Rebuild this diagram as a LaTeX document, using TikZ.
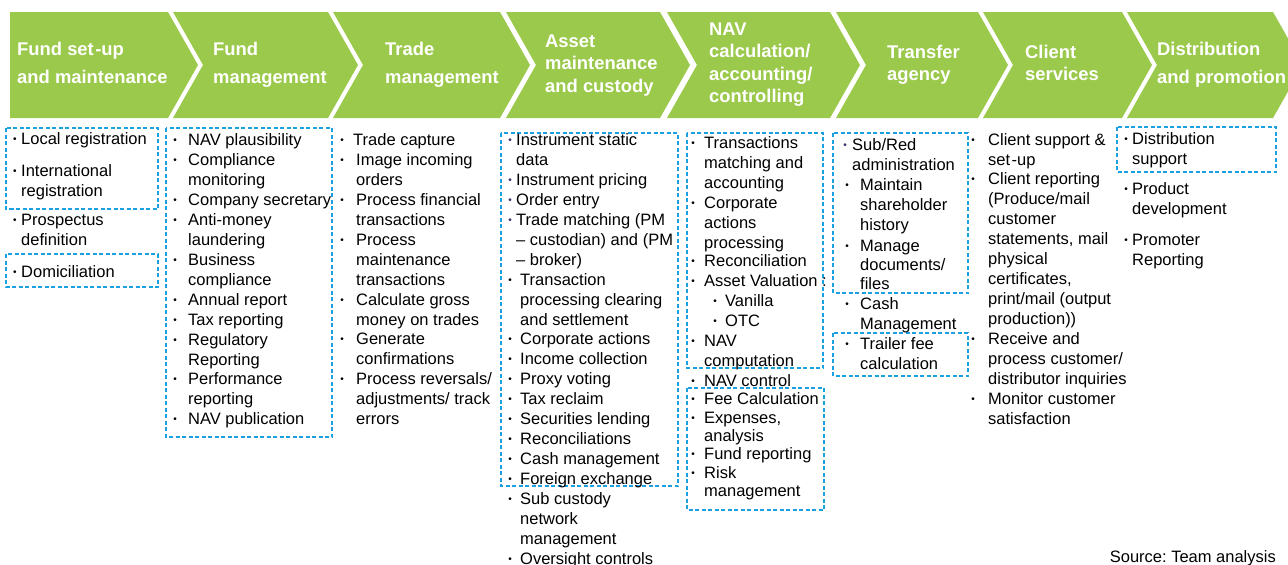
\documentclass[tikz,border=0pt]{standalone}
\usepackage{fontspec}
\setmainfont{Liberation Sans}
\frenchspacing
\definecolor{chevgreen}{RGB}{155,201,75}
\definecolor{boxblue}{RGB}{27,161,226}
\definecolor{bulnavy}{RGB}{50,50,110}
\tikzset{
  chev/.style={fill=chevgreen},
  head/.style={anchor=base west, inner sep=0, text=white, font=\bfseries\fontsize{18.4}{22.5}\selectfont},
  headwide/.style={head, font=\bfseries\fontsize{18.4}{28}\selectfont},
  itm/.style={anchor=base west, inner sep=0, font=\fontsize{16.5}{20}\selectfont\frenchspacing},
  bul/.style={anchor=base, inner sep=0, font=\fontsize{10}{10}\selectfont},
  dbox/.style={draw=boxblue, line width=1.4pt, dash pattern=on 4pt off 2.5pt},
}
% multi-line text whose baseline is that of its first line
\newcommand\ml[1]{\vtop{\def\\{\cr}\halign{##\hfil\cr #1\crcr}}}
% [bullet colour]{name}{bullet x}{baseline y}{text x}{text}
\newcommand\bitem[6][black]{%
  \node[bul,text=#1] (#2b) at (#3,#4-1.5) {•};
  \node[itm] (#2) at (#5,#4) {\ml{#6}};
}
\begin{document}
\begin{tikzpicture}[x=1pt,y=-1pt]
\useasboundingbox (0,0) rectangle (1288,565);
% chevrons
\fill[chev] (10,12) -- (168,12) -- (198,65) -- (168,118) -- (10,118) -- cycle;
\fill[chev] (173,12) -- (328,12) -- (358,65) -- (328,118) -- (173,118) -- (203,65) -- cycle;
\fill[chev] (333,12) -- (500,12) -- (530,65) -- (500,118) -- (333,118) -- (363,65) -- cycle;
\fill[chev] (506,12) -- (660,12) -- (690,65) -- (660,118) -- (506,118) -- (536,65) -- cycle;
\fill[chev] (667,12) -- (830,12) -- (860,65) -- (830,118) -- (667,118) -- (697,65) -- cycle;
\fill[chev] (836,12) -- (978,12) -- (1008,65) -- (978,118) -- (836,118) -- (866,65) -- cycle;
\fill[chev] (983,12) -- (1122,12) -- (1152,65) -- (1122,118) -- (983,118) -- (1013,65) -- cycle;
\fill[chev] (1127,12) -- (1273,12) -- (1288,38.5) -- (1288,91.5) -- (1273,118) -- (1127,118) -- (1157,65) -- cycle;
% header labels
\node[headwide] (h1) at (17,55) {\ml{Fund set\kern1.5pt-up\\and maintenance}};
\node[headwide] (h2) at (213,55) {\ml{Fund\\management}};
\node[headwide] (h3) at (385,55) {\ml{Trade\\management}};
\node[head] (h4) at (545,47) {\ml{Asset\\maintenance\\and custody}};
\node[head] (h5) at (709,35) {\ml{NAV\\calculation/\\accounting/\\controlling}};
\node[head] (h6) at (887,58) {\ml{Transfer\\agency}};
\node[head] (h7) at (1025,58) {\ml{Client\\services}};
\node[headwide] (h8) at (1157,55) {\ml{Distribution\\and promotion}};
% column 1
\draw[dbox] (6,128) rectangle (158,209);
\draw[dbox] (6,254) rectangle (158,287);
\bitem{a1}{15}{144}{21}{Local registration}
\bitem{a2}{15}{176}{21}{International\\registration}
\bitem{a3}{15}{225}{21}{Prospectus\\definition}
\bitem{a4}{15}{277}{21}{Domiciliation}
% column 2
\draw[dbox] (166,128) rectangle (332,437);
\bitem{b1}{175}{145}{188}{NAV plausibility}
\bitem{b2}{175}{165}{188}{Compliance\\monitoring}
\bitem{b3}{175}{205}{188}{Company secretary}
\bitem{b4}{175}{225}{188}{Anti-money\\laundering}
\bitem{b5}{175}{265}{188}{Business\\compliance}
\bitem{b6}{175}{305}{188}{Annual report}
\bitem{b7}{175}{325}{188}{Tax reporting}
\bitem{b8}{175}{345}{188}{Regulatory\\Reporting}
\bitem{b9}{175}{384}{188}{Performance\\reporting}
\bitem{b10}{175}{424}{188}{NAV publication}
% column 3
\bitem{c1}{342}{145}{353}{Trade capture}
\bitem{c2}{342}{165}{356}{Image incoming\\orders}
\bitem{c3}{342}{205}{356}{Process financial\\transactions}
\bitem{c4}{342}{245}{356}{Process\\maintenance\\transactions}
\bitem{c5}{342}{305}{356}{Calculate gross\\money on trades}
\bitem{c6}{342}{344}{356}{Generate\\confirmations}
\bitem{c7}{342}{384}{356}{Process reversals/\\adjustments/ track\\errors}
% column 4
\draw[dbox] (501,133) rectangle (678,486);
\bitem[bulnavy]{d1}{510}{145}{516}{Instrument static\\data}
\bitem[bulnavy]{d2}{510}{185}{516}{Instrument pricing}
\bitem[bulnavy]{d3}{510}{205}{516}{Order entry}
\bitem[bulnavy]{d4}{510}{225}{516}{Trade matching (PM\\– custodian) and (PM\\– broker)}
\bitem{d5}{510}{285}{520}{Transaction\\processing clearing\\and settlement}
\bitem{d6}{510}{344}{520}{Corporate actions}
\bitem{d7}{510}{364}{520}{Income collection}
\bitem{d8}{510}{384}{520}{Proxy voting}
\bitem{d9}{510}{404}{520}{Tax reclaim}
\bitem{d10}{510}{424}{520}{Securities lending}
\bitem{d11}{510}{444}{520}{Reconciliations}
\bitem{d12}{510}{464}{520}{Cash management}
\bitem{d13}{510}{484}{520}{Foreign exchange}
\bitem{d14}{510}{504}{520}{Sub custody\\network\\management}
\bitem{d15}{510}{564}{520}{Oversight controls}
% column 5
\draw[dbox] (687,133) rectangle (823,368);
\draw[dbox] (687,388) rectangle (824,510);
\bitem{e1}{693}{148}{704}{Transactions\\matching and\\accounting}
\bitem{e2}{693}{208}{704}{Corporate\\actions\\processing}
\bitem{e3}{693}{266}{704}{Reconciliation}
\bitem{e4}{693}{286}{704}{Asset Valuation :}
\bitem{e5}{715}{306}{725}{Vanilla}
\bitem{e6}{715}{326}{725}{OTC}
\bitem{e7}{693}{346}{704}{NAV\\computation}
\bitem{e8}{693}{386}{704}{NAV control}
\bitem{e9}{693}{404}{704}{Fee Calculation}
\node[bul] (e10b) at (693,421.5) {•};
\node[itm, font=\fontsize{16.5}{18.5}\selectfont\frenchspacing] (e10) at (704,423) {\ml{Expenses,\\analysis}};
\bitem{e11}{693}{459}{704}{Fund reporting}
\node[bul] (e12b) at (693,476.5) {•};
\node[itm, font=\fontsize{16.5}{18.5}\selectfont\frenchspacing] (e12) at (704,478) {\ml{Risk\\management}};
% column 6
\draw[dbox] (833,133) rectangle (968,293);
\draw[dbox] (833,333) rectangle (968,376);
\bitem[bulnavy]{f1}{845}{150}{852}{Sub/Red\\administration}
\bitem{f2}{847}{190}{860}{Maintain\\shareholder\\history}
\node[bul] (f3b) at (847,249.5) {•};
\node[itm, font=\fontsize{16.5}{19}\selectfont\frenchspacing] (f3) at (860,251) {\ml{Manage\\documents/\\files}};
\bitem{f4}{847}{309}{860}{Cash\\Management}
\bitem{f5}{847}{349}{860}{Trailer fee\\calculation}
% column 7
\bitem{g1}{973}{145}{988}{Client support \&\\set\kern1.5pt-up}
\bitem{g2}{973}{184}{988}{Client reporting\\(Produce/mail\\customer\\statements, mail\\physical\\certificates,\\print/mail (output\\production))}
\bitem{g3}{973}{344}{988}{Receive and\\process customer/\\distributor inquiries}
\bitem{g4}{973}{404}{988}{Monitor customer\\satisfaction}
% column 8
\draw[dbox] (1117,127) rectangle (1276,172);
\bitem{k1}{1126}{144}{1132}{Distribution\\support}
\bitem{k2}{1126}{194}{1132}{Product\\development}
\bitem{k3}{1126}{245}{1132}{Promoter\\Reporting}
% source
\node[itm, anchor=base east] (src) at (1276,562) {Source: Team analysis};
\end{tikzpicture}
\end{document}
